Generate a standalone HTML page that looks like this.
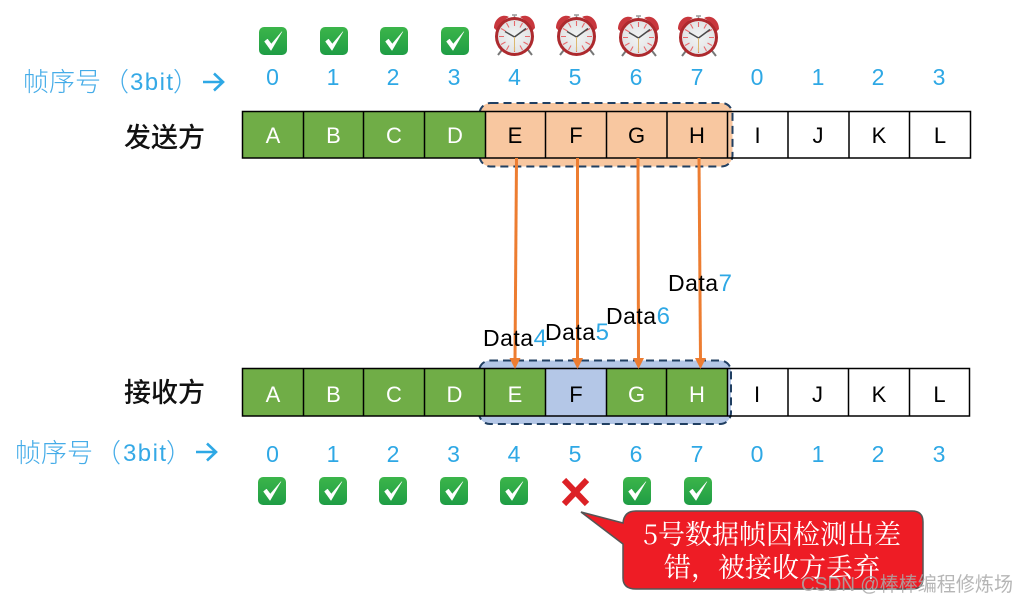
<!DOCTYPE html>
<html><head><meta charset="utf-8">
<style>
html,body{margin:0;padding:0;background:#fff;overflow:hidden}
svg{display:block}
text{font-family:"Liberation Sans","Noto Sans CJK SC",sans-serif}
.l{font-size:22px;text-anchor:middle;fill:#000}
.w{font-size:22px;text-anchor:middle;fill:#fff}
.n{font-size:23px;text-anchor:middle;fill:#2ea8e5}
.t{font-size:27px;fill:#111;font-family:"Noto Sans CJK SC",sans-serif;font-weight:500}
.s{font-size:26px;fill:#45ace8;font-family:"Noto Sans CJK SC",sans-serif;font-weight:300}
.b{font-size:24px;fill:#35a9e6;font-family:"Liberation Sans",sans-serif;font-weight:400}
.d{font-size:23px;fill:#000;letter-spacing:.5px}
.d tspan{fill:#2ea8e5;font-size:24px}
.c{font-size:27px;fill:#fff;text-anchor:middle;font-family:"Noto Serif CJK SC",serif}
</style></head>
<body>
<svg width="1017" height="602" viewBox="0 0 1017 602" xmlns="http://www.w3.org/2000/svg">
<defs>
<linearGradient id="g" x1="0" y1="0" x2="0" y2="1"><stop offset="0" stop-color="#3cb54a"/><stop offset="1" stop-color="#1f9d45"/></linearGradient>
<radialGradient id="f" cx=".5" cy=".5" r=".6"><stop offset="0" stop-color="#f2f3f3"/><stop offset="1" stop-color="#dfe1e2"/></radialGradient>
<g id="chk">
<rect x="0" y="0" width="28" height="28" rx="5" fill="url(#g)"/>
<path d="M5.500 14.500 L12 23.500 L23 4.500 L12.300 17 L8.500 12 Z" fill="#fff" stroke="#fff" stroke-width=".5" stroke-linejoin="round"/>
</g>
<g id="clk">
<path d="M4 41 L11 32 M38 41 L31 32" stroke="#777" stroke-width="2" fill="none"/>
<path d="M0 14 C0 5 8 -1 15 3 C10 6 5 10 3 17 Z" fill="#c8373d"/>
<path d="M41 14 C41 5 33 -1 26 3 C31 6 36 10 38 17 Z" fill="#c8373d"/>
<path d="M20.500 5 V1 M18 1 H23" stroke="#999" stroke-width="1.500" fill="none"/>
<circle cx="20.500" cy="22.500" r="19.500" fill="#ad2a2e"/>
<circle cx="20.500" cy="22.500" r="16.500" fill="url(#f)"/>
<g stroke="#e8696c" stroke-width="1.100">
<path d="M20.500 7 V12 M20.500 33 V38 M5 22.500 H10 M31 22.500 H36 M12.500 9 L15 13.500 M28.500 9 L26 13.500 M7 14.500 L11.500 17 M34 14.500 L29.500 17 M7 30.500 L11.500 28 M34 30.500 L29.500 28 M12.500 36 L15 31.500 M28.500 36 L26 31.500"/>
</g>
<path d="M20.500 23 L11 17.500 M20.500 23 L32 14.500" stroke="#4a4a4a" stroke-width="1.500" fill="none"/>
<path d="M20.500 23 V37" stroke="#dcb86f" stroke-width="1" fill="none"/>
</g>
</defs>

<!-- top icons -->
<use href="#chk" x="259" y="27"/><use href="#chk" x="320" y="27"/><use href="#chk" x="380" y="27"/><use href="#chk" x="441" y="27"/>
<use href="#clk" x="494" y="14"/><use href="#clk" x="556" y="14"/><use href="#clk" x="618" y="15"/><use href="#clk" x="678" y="15"/>

<!-- top numbers -->
<text class="n" x="272.500" y="85">0</text><text class="n" x="333" y="85">1</text><text class="n" x="393" y="85">2</text><text class="n" x="454" y="85">3</text>
<text class="n" x="514.500" y="85">4</text><text class="n" x="575" y="85">5</text><text class="n" x="636" y="85">6</text><text class="n" x="697" y="85">7</text>
<text class="n" x="757" y="85">0</text><text class="n" x="818" y="85">1</text><text class="n" x="878" y="85">2</text><text class="n" x="939" y="85">3</text>

<text class="s" x="23" y="91">帧序号</text>
<text class="s" x="103" y="91">（</text>
<text class="b" x="130" y="90" textLength="43" lengthAdjust="spacing">3bit</text>
<text class="s" x="173" y="91">）</text>
<path d="M203 82 H222 M214 73.500 L223 82 L214 90.500" stroke="#2ea8e5" stroke-width="2.600" fill="none"/>
<text class="t" x="124" y="147">发送方</text>

<!-- top row -->
<rect x="479.500" y="103" width="253" height="63.500" rx="11" fill="#f8c7a0" stroke="#203f62" stroke-width="2" stroke-dasharray="8 5"/>
<rect x="243" y="112" width="242" height="46" fill="#70ad47"/>
<g stroke="#000" stroke-width="1.500" fill="none">
<path d="M242.500 111.500 H970.500 V158 H242.500 Z"/>
<path d="M303.500 111.500 V158 M363.500 111.500 V158 M424.500 111.500 V158 M485.500 111.500 V158 M545.500 111.500 V158 M606.500 111.500 V158 M667 111.500 V158 M727.500 111.500 V158 M788 111.500 V158 M849 111.500 V158 M909.500 111.500 V158"/>
</g>
<text class="w" x="273" y="143">A</text><text class="w" x="333.500" y="143">B</text><text class="w" x="394" y="143">C</text><text class="w" x="455" y="143">D</text>
<text class="l" x="515" y="143">E</text><text class="l" x="576" y="143">F</text><text class="l" x="636.500" y="143">G</text><text class="l" x="697" y="143">H</text>
<text class="l" x="757.500" y="143">I</text><text class="l" x="818" y="143">J</text><text class="l" x="879" y="143">K</text><text class="l" x="940" y="143">L</text>

<!-- bottom row -->
<rect x="479" y="360.500" width="252" height="63.500" rx="11" fill="#b4c7e7" stroke="#203f62" stroke-width="2" stroke-dasharray="8 5"/>
<rect x="243" y="369" width="303" height="47" fill="#70ad47"/>
<rect x="606" y="369" width="122" height="47" fill="#70ad47"/>
<g stroke="#000" stroke-width="1.500" fill="none">
<path d="M242.500 368.500 H969.500 V416 H242.500 Z"/>
<path d="M303.500 368.500 V416 M363.500 368.500 V416 M424.500 368.500 V416 M484.500 368.500 V416 M545.500 368.500 V416 M606.500 368.500 V416 M666.500 368.500 V416 M727.500 368.500 V416 M788 368.500 V416 M848.500 368.500 V416 M909.500 368.500 V416"/>
</g>
<text class="w" x="273" y="402">A</text><text class="w" x="333.500" y="402">B</text><text class="w" x="394" y="402">C</text><text class="w" x="454.500" y="402">D</text>
<text class="w" x="515" y="402">E</text><text class="l" x="576" y="402">F</text><text class="w" x="636.500" y="402">G</text><text class="w" x="697" y="402">H</text>
<text class="l" x="757" y="402">I</text><text class="l" x="817.500" y="402">J</text><text class="l" x="879" y="402">K</text><text class="l" x="939.500" y="402">L</text>

<!-- arrows -->
<g stroke="#ed7d31" stroke-width="3" fill="none">
<path d="M516.500 158 L515 360"/><path d="M577.500 158 L577.500 360"/><path d="M638 158 L638.500 360"/><path d="M699 158 L700.500 360"/>
</g>
<g fill="#ed7d31">
<path d="M509.500 358 H520.500 L515 369 Z"/><path d="M572 358 H583 L577.500 369 Z"/><path d="M633 358 H644 L638.500 369 Z"/><path d="M695 358 H706 L700.500 369 Z"/>
</g>
<text class="d" x="483" y="346">Data<tspan>4</tspan></text>
<text class="d" x="545" y="340">Data<tspan>5</tspan></text>
<text class="d" x="606" y="324">Data<tspan>6</tspan></text>
<text class="d" x="668" y="291">Data<tspan>7</tspan></text>

<text class="t" x="124" y="402">接收方</text>
<text class="s" x="15" y="462">帧序号</text>
<text class="s" x="95" y="462">（</text>
<text class="b" x="123" y="461" textLength="43" lengthAdjust="spacing">3bit</text>
<text class="s" x="166" y="462">）</text>
<path d="M196 452 H215 M207 443.500 L216 452 L207 460.500" stroke="#2ea8e5" stroke-width="2.600" fill="none"/>

<!-- bottom numbers -->
<text class="n" x="272.500" y="462">0</text><text class="n" x="333" y="462">1</text><text class="n" x="393" y="462">2</text><text class="n" x="453.500" y="462">3</text>
<text class="n" x="514" y="462">4</text><text class="n" x="575" y="462">5</text><text class="n" x="636" y="462">6</text><text class="n" x="697" y="462">7</text>
<text class="n" x="757" y="462">0</text><text class="n" x="818" y="462">1</text><text class="n" x="878" y="462">2</text><text class="n" x="939" y="462">3</text>

<use href="#chk" x="258" y="477"/><use href="#chk" x="319" y="477"/><use href="#chk" x="379" y="477"/><use href="#chk" x="440" y="477"/><use href="#chk" x="500" y="477"/>
<use href="#chk" x="623" y="477"/><use href="#chk" x="684" y="477"/>
<path d="M564 480 L587 504 M587 480 L564 504" stroke="#dc2126" stroke-width="6" fill="none"/>

<!-- callout -->
<path d="M581 512 L623 523 Q624 511 636 511 H912 Q923 511 923 522 V578 Q923 589 912 589 H636 Q623 589 623 578 V544 Z" fill="#ee1c25" stroke="#555" stroke-width="1.500"/>
<text class="c" x="772" y="544">5号数据帧因检测出差</text>
<text class="c" x="772" y="577">错，被接收方丢弃</text>

<!-- watermark -->
<text x="801" y="591" font-size="20" fill="#a9a9a9" fill-opacity="0.85" textLength="212" lengthAdjust="spacingAndGlyphs">CSDN @棒棒编程修炼场</text>
</svg>
</body></html>
